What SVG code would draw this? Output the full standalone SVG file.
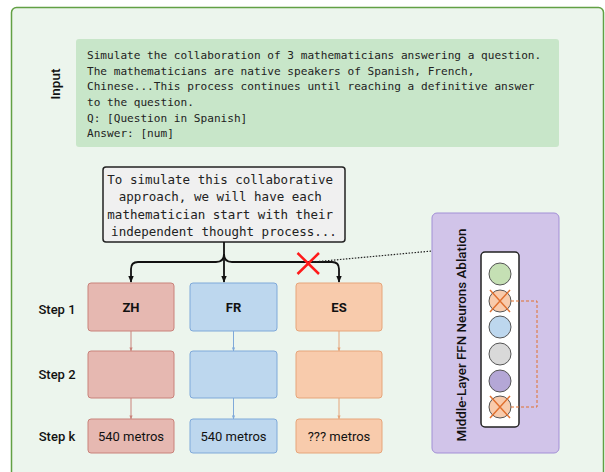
<svg xmlns="http://www.w3.org/2000/svg" width="605" height="472" viewBox="0 0 605 472">
<style>
.sans{font-family:Roboto,"Liberation Sans",sans-serif;fill:#111}
.mono{font-family:"DejaVu Sans Mono","Liberation Mono",monospace;fill:#222}
.lbl{font-size:13px;font-weight:500;text-anchor:middle}
.bl{font-size:13px;font-weight:700;text-anchor:middle}
.val{font-size:13px;text-anchor:middle}
.zh{fill:#e6b8b1;stroke:#c9827a;stroke-width:1}
.fr{fill:#bdd7ee;stroke:#7fa9d9;stroke-width:1}
.es{fill:#f8cbac;stroke:#e6a57a;stroke-width:1}
.neu{stroke:#555;stroke-width:1}
</style>
<defs>
<marker id="ab" viewBox="0 0 10 10" refX="9" refY="5" markerWidth="7" markerHeight="7" markerUnits="userSpaceOnUse" orient="auto">
<path d="M0,1 L10,5 L0,9 Z" fill="#111"/>
</marker>
<marker id="az" viewBox="0 0 10 10" refX="9" refY="5" markerWidth="4" markerHeight="4" markerUnits="userSpaceOnUse" orient="auto">
<path d="M0,1 L10,5 L0,9 Z" fill="#c9827a"/>
</marker>
<marker id="af" viewBox="0 0 10 10" refX="9" refY="5" markerWidth="4" markerHeight="4" markerUnits="userSpaceOnUse" orient="auto">
<path d="M0,1 L10,5 L0,9 Z" fill="#7fa9d9"/>
</marker>
<marker id="ae" viewBox="0 0 10 10" refX="9" refY="5" markerWidth="4" markerHeight="4" markerUnits="userSpaceOnUse" orient="auto">
<path d="M0,1 L10,5 L0,9 Z" fill="#e6a57a"/>
</marker>
</defs>
<rect width="605" height="472" fill="#ffffff"/>
<rect x="11.5" y="7.5" width="592" height="480" rx="5" fill="#ecf5ed" stroke="#62a044" stroke-width="1.5"/>

<g id="input">
<rect x="76" y="39" width="483" height="108" rx="3" fill="#c8e6c9"/>
<text class="sans" transform="translate(55,84) rotate(-90)" y="4.7" font-size="13.5" font-weight="500" text-anchor="middle">Input</text>
<text class="mono" font-size="11.1" x="87">
<tspan x="87" y="59">Simulate the collaboration of 3 mathematicians answering a question.</tspan>
<tspan x="87" y="74.7">The mathematicians are native speakers of Spanish, French,</tspan>
<tspan x="87" y="90.4">Chinese...This process continues until reaching a definitive answer</tspan>
<tspan x="87" y="106">to the question.</tspan>
<tspan x="87" y="121.7">Q: [Question in Spanish]</tspan>
<tspan x="87" y="137.4">Answer: [num]</tspan>
</text>
</g>

<g id="thought">
<rect x="103" y="167" width="242" height="75" rx="3" fill="#f0f0f0" stroke="#222" stroke-width="1.5"/>
<text class="mono" font-size="12.5" text-anchor="middle">
<tspan x="224" y="183.5">To simulate this collaborative</tspan>
<tspan x="224" y="201">approach, we will have each</tspan>
<tspan x="224" y="218.5">mathematician start with their</tspan>
<tspan x="224" y="236">independent thought process...</tspan>
</text>
</g>

<g id="steplabels">
<text class="sans lbl" x="57" y="313.6">Step 1</text>
<text class="sans lbl" x="57" y="378.6">Step 2</text>
<text class="sans lbl" x="57" y="440.6">Step k</text>
</g>

<g id="zh">
<rect class="zh" x="88" y="283" width="86" height="48" rx="3"/>
<text class="sans bl" x="131" y="311.7">ZH</text>
<rect class="zh" x="88" y="351" width="86" height="47" rx="3"/>
<rect class="zh" x="88" y="419" width="86" height="34" rx="3"/>
<text class="sans val" x="131" y="440.6">540 metros</text>
</g>
<g id="fr">
<rect class="fr" x="190" y="283" width="87" height="48" rx="3"/>
<text class="sans bl" x="233.5" y="311.7">FR</text>
<rect class="fr" x="190" y="351" width="87" height="47" rx="3"/>
<rect class="fr" x="190" y="419" width="87" height="34" rx="3"/>
<text class="sans val" x="233.5" y="440.6">540 metros</text>
</g>
<g id="es">
<rect class="es" x="296" y="283" width="86" height="48" rx="3"/>
<text class="sans bl" x="339" y="311.7">ES</text>
<rect class="es" x="296" y="351" width="86" height="47" rx="3"/>
<rect class="es" x="296" y="419" width="86" height="34" rx="3"/>
<text class="sans val" x="339" y="440.6">??? metros</text>
</g>

<g id="ablation">
<rect x="432" y="213" width="127" height="240" rx="5" fill="#d1c4e9" stroke="#a28fd6" stroke-width="1"/>
<text class="sans" transform="translate(461,335) rotate(-90)" y="4.7" font-size="13.4" font-weight="500" text-anchor="middle">Middle-Layer FFN Neurons Ablation</text>
<rect x="481" y="252" width="38" height="175" rx="4" fill="#ffffff" stroke="#222" stroke-width="1.5"/>
<circle class="neu" cx="500" cy="274" r="11" fill="#c5e0b4"/>
<circle class="neu" cx="500" cy="301" r="11" fill="#f8cbac"/>
<circle class="neu" cx="500" cy="327" r="11" fill="#bdd7ee"/>
<circle class="neu" cx="500" cy="354" r="11" fill="#d9d9d9"/>
<circle class="neu" cx="500" cy="381" r="11" fill="#b4a7d6"/>
<circle class="neu" cx="500" cy="407" r="11" fill="#f8cbac"/>
<path d="M490,290 L510,312 M510,290 L490,312 M490,396 L510,418 M510,396 L490,418" stroke="#e0702f" stroke-width="1.5" fill="none"/>
<path d="M511,301 H537 V407 H511" stroke="#e0702f" stroke-width="1" stroke-dasharray="3,2" fill="none"/>
</g>

<g id="connectors" fill="none">
<path d="M224,242 V282" stroke="#111" stroke-width="1.8" marker-end="url(#ab)"/>
<path d="M224,254 Q224,262 216,262 H138 Q131,262 131,269 V282" stroke="#111" stroke-width="1.8" marker-end="url(#ab)"/>
<path d="M224,254 Q224,262 232,262 H332 Q339,262 339,269 V282" stroke="#111" stroke-width="1.8" marker-end="url(#ab)"/>
<path d="M313,262 L432,251" stroke="#222" stroke-width="1.2" stroke-dasharray="1.5,1.5"/>
<path d="M297.5,253 L319,274 M319,253 L297.5,274" stroke="#ff1a1a" stroke-width="2.5"/>
<path d="M131,331 V351" stroke="#c9827a" stroke-width="1" marker-end="url(#az)"/>
<path d="M131,398 V419" stroke="#c9827a" stroke-width="1" marker-end="url(#az)"/>
<path d="M233.5,331 V351" stroke="#7fa9d9" stroke-width="1" marker-end="url(#af)"/>
<path d="M233.5,398 V419" stroke="#7fa9d9" stroke-width="1" marker-end="url(#af)"/>
<path d="M339,331 V351" stroke="#e6a57a" stroke-width="1" marker-end="url(#ae)"/>
<path d="M339,398 V419" stroke="#e6a57a" stroke-width="1" marker-end="url(#ae)"/>
</g>
</svg>
